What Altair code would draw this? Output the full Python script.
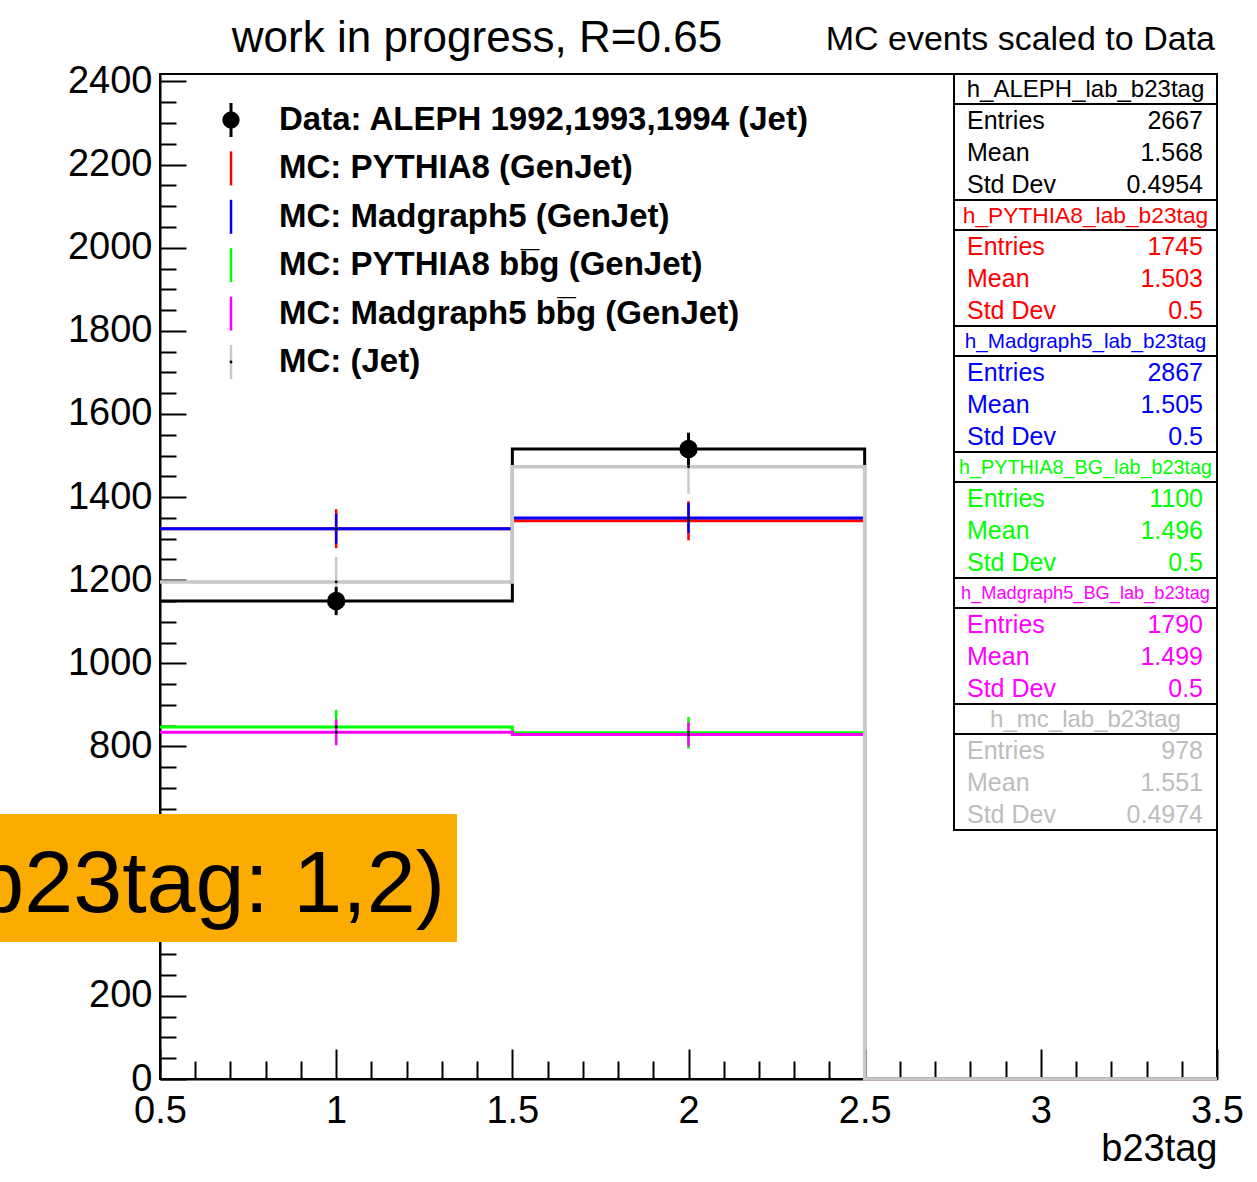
import altair as alt
import pandas as pd

# ---------------- data ----------------
bin_lo = [0.5, 1.5, 2.5]
bin_hi = [1.5, 2.5, 3.5]
bin_center = [1.0, 2.0, 3.0]

data_vals = [1150, 1516, 0]
data_errs = [34, 39, 0]
pythia_vals = [1324, 1343, 0]
pythia_errs = [47, 47, 0]
madgraph_vals = [1324, 1350, 0]
madgraph_errs = [36, 36, 0]
pythia_bg_vals = [847, 833, 0]
pythia_bg_errs = [41, 38, 0]
madgraph_bg_vals = [834, 829, 0]
madgraph_bg_errs = [31, 29, 0]
mc_vals = [1196, 1473, 0]
mc_errs = [60, 65, 0]

x_major = [0.5, 1.0, 1.5, 2.0, 2.5, 3.0, 3.5]
x_minor = [0.6, 0.7, 0.8, 0.9, 1.1, 1.2, 1.3, 1.4, 1.6, 1.7, 1.8, 1.9,
           2.1, 2.2, 2.3, 2.4, 2.6, 2.7, 2.8, 2.9, 3.1, 3.2, 3.3, 3.4]
y_major = [0, 200, 400, 600, 800, 1000, 1200, 1400, 1600, 1800, 2000, 2200, 2400]
# labels 400 and 600 are hidden behind the orange annotation in the reference
y_labels = [0, 200, 800, 1000, 1200, 1400, 1600, 1800, 2000, 2200, 2400]
y_minor = [50, 100, 150, 250, 300, 350, 450, 500, 550, 650, 700, 750, 850, 900, 950,
           1050, 1100, 1150, 1250, 1300, 1350, 1450, 1500, 1550, 1650, 1700, 1750,
           1850, 1900, 1950, 2050, 2100, 2150, 2250, 2300, 2350]

stat_names = ["h_ALEPH_lab_b23tag", "h_PYTHIA8_lab_b23tag", "h_Madgraph5_lab_b23tag",
              "h_PYTHIA8_BG_lab_b23tag", "h_Madgraph5_BG_lab_b23tag", "h_mc_lab_b23tag"]
stat_entries = ["2667", "1745", "2867", "1100", "1790", "978"]
stat_means = ["1.568", "1.503", "1.505", "1.496", "1.499", "1.551"]
stat_stds = ["0.4954", "0.5", "0.5", "0.5", "0.5", "0.4974"]
stat_row_labels = ["Entries", "Mean", "Std Dev"]

legend_labels = ["Data: ALEPH 1992,1993,1994 (Jet)",
                 "MC: PYTHIA8 (GenJet)",
                 "MC: Madgraph5 (GenJet)",
                 "MC: PYTHIA8 bb\u0305g (GenJet)",
                 "MC: Madgraph5 bb\u0305g (GenJet)",
                 "MC: (Jet)"]

title_left = "work in progress, R=0.65"
title_right = "MC events scaled to Data"
x_title = "b23tag"
annot_text = "(b23tag: 1,2)"

# ---------------- style ----------------
FONT = "Liberation Sans"
C_DATA = "#000000"
C_PY = "#ff0000"
C_MG = "#0000ff"
C_PYBG = "#00ff00"
C_MGBG = "#ff00ff"
C_MC = "#c8c8c8"
stat_colors = [C_DATA, C_PY, C_MG, C_PYBG, C_MGBG, "#bdbdbd"]
legend_colors = [C_DATA, C_PY, C_MG, C_PYBG, C_MGBG, C_MC]

W, H = 1057, 1005
xs = alt.Scale(domain=[0.5, 3.5], nice=False, zero=False)
ys = alt.Scale(domain=[0, 2418], nice=False, zero=False)


def step_df(vals):
    return pd.DataFrame({"x": bin_lo + [bin_hi[-1]], "v": vals + [vals[-1]]})


def bins_df(vals, errs):
    df = pd.DataFrame({"lo": bin_lo, "hi": bin_hi, "c": bin_center, "v": vals, "e": errs})
    df = df[df["v"] > 0].copy()
    df["ylo"] = df["v"] - df["e"]
    df["yhi"] = df["v"] + df["e"]
    return df


NOAX = None

ax_main_x = alt.Axis(orient="bottom", values=x_major, format="~g", ticks=False, domain=True,
                     domainColor="black", domainWidth=2, labelFont=FONT, labelFontSize=38,
                     labelColor="black", labelPadding=13, labelFlush=False, labelOverlap=False,
                     grid=False, title=x_title, titleFont=FONT, titleFontSize=38,
                     titleFontWeight="normal", titleColor="black", titleAlign="right",
                     titleX=W, titleY=81, titleBaseline="alphabetic")
ax_main_y = alt.Axis(orient="left", values=y_labels, format="d", ticks=False, domain=True,
                     domainColor="black", domainWidth=2, labelFont=FONT, labelFontSize=38,
                     labelColor="black", labelPadding=8, labelFlush=False, labelOverlap=False,
                     labelBaseline="middle", grid=False, title=None)
ax_maj_x = alt.Axis(orient="bottom", values=x_major, ticks=True, tickSize=30, tickWidth=2,
                    tickColor="black", offset=-30, domain=False, labels=False, grid=False, title=None)
ax_maj_y = alt.Axis(orient="left", values=y_major, ticks=True, tickSize=26, tickWidth=2,
                    tickColor="black", offset=-26, domain=False, labels=False, grid=False, title=None)
ax_min_x = alt.Axis(orient="bottom", values=x_minor, ticks=True, tickSize=18, tickWidth=2,
                    tickColor="black", offset=-18, domain=False, labels=False, grid=False, title=None)
ax_min_y = alt.Axis(orient="left", values=y_minor, ticks=True, tickSize=16, tickWidth=2,
                    tickColor="black", offset=-16, domain=False, labels=False, grid=False, title=None)


def step_layer(vals, color, axx=NOAX, axy=NOAX, width=3):
    return alt.Chart(step_df(vals)).mark_line(interpolate="step-after", color=color,
                                              strokeWidth=width).encode(
        x=alt.X("x:Q", scale=xs, axis=axx),
        y=alt.Y("v:Q", scale=ys, axis=axy))


def seg_layer(vals, errs, color, axx=NOAX, axy=NOAX):
    return alt.Chart(bins_df(vals, errs)).mark_rule(color=color, strokeWidth=3).encode(
        x=alt.X("lo:Q", scale=xs, axis=axx), x2="hi:Q",
        y=alt.Y("v:Q", scale=ys, axis=axy))


def err_layer(vals, errs, color, width=2.5):
    return alt.Chart(bins_df(vals, errs)).mark_rule(color=color, strokeWidth=width).encode(
        x=alt.X("c:Q", scale=xs, axis=NOAX),
        y=alt.Y("ylo:Q", scale=ys, axis=NOAX), y2="yhi:Q")


def dot_layer(vals, errs):
    return alt.Chart(bins_df(vals, errs)).mark_point(filled=True, shape="circle", size=8,
                                                     color="black", opacity=1).encode(
        x=alt.X("c:Q", scale=xs, axis=NOAX),
        y=alt.Y("v:Q", scale=ys, axis=NOAX))


layers = [
    step_layer(data_vals, C_DATA, ax_main_x, ax_main_y),
    step_layer(pythia_bg_vals, C_PYBG, ax_maj_x, ax_maj_y),
    step_layer(madgraph_bg_vals, C_MGBG, ax_min_x, ax_min_y),
    seg_layer(pythia_vals, pythia_errs, C_PY),
    seg_layer(madgraph_vals, madgraph_errs, C_MG),
    err_layer(pythia_bg_vals, pythia_bg_errs, C_PYBG),
    err_layer(madgraph_bg_vals, madgraph_bg_errs, C_MGBG),
    err_layer(pythia_vals, pythia_errs, C_PY),
    err_layer(madgraph_vals, madgraph_errs, C_MG),
    step_layer(mc_vals, C_MC, width=3.5),
    err_layer(mc_vals, mc_errs, C_MC),
    dot_layer(pythia_vals, pythia_errs),
    dot_layer(madgraph_vals, madgraph_errs),
    dot_layer(pythia_bg_vals, pythia_bg_errs),
    dot_layer(madgraph_bg_vals, madgraph_bg_errs),
    dot_layer(mc_vals, mc_errs),
    err_layer(data_vals, data_errs, C_DATA, width=3),
    alt.Chart(bins_df(data_vals, data_errs)).mark_point(filled=True, shape="circle", size=340,
                                                        color="black", opacity=1).encode(
        x=alt.X("c:Q", scale=xs, axis=NOAX), y=alt.Y("v:Q", scale=ys, axis=NOAX)),
]

# ---------------- legend (pixel layout inside the frame) ----------------
leg = pd.DataFrame({"i": list(range(len(legend_labels))), "label": legend_labels,
                    "col": legend_colors})
LEG_Y = "46 + datum.i * 48.4"
leg_lines = alt.Chart(leg).transform_filter("datum.i > 0").mark_rule(strokeWidth=2.5).encode(
    x=alt.value(71),
    y=alt.value({"expr": LEG_Y + " - 17"}),
    y2=alt.value({"expr": LEG_Y + " + 17"}),
    color=alt.Color("col:N", scale=None))
leg_data_bar = alt.Chart(leg).transform_filter("datum.i == 0").mark_rule(
    strokeWidth=3, color="black").encode(
    x=alt.value(71),
    y=alt.value({"expr": LEG_Y + " - 17"}),
    y2=alt.value({"expr": LEG_Y + " + 17"}))
leg_data_pt = alt.Chart(leg).transform_filter("datum.i == 0").mark_point(
    filled=True, shape="circle", size=300, color="black", opacity=1).encode(
    x=alt.value(71), y=alt.value({"expr": LEG_Y}))
leg_dot = alt.Chart(leg).transform_filter("datum.i == 5").mark_point(
    filled=True, shape="circle", size=8, color="black", opacity=1).encode(
    x=alt.value(71), y=alt.value({"expr": LEG_Y}))
leg_text = alt.Chart(leg).mark_text(align="left", baseline="middle", font=FONT,
                                    fontSize=33, fontWeight="bold", color="black").encode(
    x=alt.value(119), y=alt.value({"expr": LEG_Y}), text="label:N")

# ---------------- stat boxes ----------------
BX0, BX1, BH, HH = 794, 1057, 126, 30
boxes = pd.DataFrame({"k": list(range(len(stat_names))), "name": stat_names,
                      "col": stat_colors})
boxes["hfs"] = [min(24.0, 255.0 / (0.56 * len(n))) for n in stat_names]
rows = []
for k in range(len(stat_names)):
    for j, (lab, val) in enumerate(zip(stat_row_labels,
                                       [stat_entries[k], stat_means[k], stat_stds[k]])):
        rows.append({"k": k, "j": j, "lab": lab, "val": val, "col": stat_colors[k]})
rows = pd.DataFrame(rows)

box_hdr = alt.Chart(boxes).mark_rect(fill="white", stroke="black", strokeWidth=2).encode(
    x=alt.value(BX0), x2=alt.value(BX1),
    y=alt.value({"expr": f"datum.k * {BH}"}), y2=alt.value({"expr": f"datum.k * {BH} + {HH}"}))
box_body = alt.Chart(boxes).mark_rect(fill="white", stroke="black", strokeWidth=2).encode(
    x=alt.value(BX0), x2=alt.value(BX1),
    y=alt.value({"expr": f"datum.k * {BH} + {HH}"}),
    y2=alt.value({"expr": f"datum.k * {BH} + {BH}"}))
box_name = alt.Chart(boxes).mark_text(align="center", baseline="middle", font=FONT).encode(
    x=alt.value((BX0 + BX1) / 2), y=alt.value({"expr": f"datum.k * {BH} + 16"}),
    text="name:N", color=alt.Color("col:N", scale=None),
    size=alt.Size("hfs:Q", scale=None))
ROW_Y = f"datum.k * {BH} + 47 + datum.j * 32"
box_lab = alt.Chart(rows).mark_text(align="left", baseline="middle", font=FONT,
                                    fontSize=25).encode(
    x=alt.value(807), y=alt.value({"expr": ROW_Y}), text="lab:N",
    color=alt.Color("col:N", scale=None))
box_val = alt.Chart(rows).mark_text(align="right", baseline="middle", font=FONT,
                                    fontSize=25).encode(
    x=alt.value(1043), y=alt.value({"expr": ROW_Y}), text="val:N",
    color=alt.Color("col:N", scale=None))

# ---------------- titles & annotation ----------------
one = pd.DataFrame({"t": [title_left], "r": [title_right], "a": [annot_text]})
t_left = alt.Chart(one).mark_text(align="center", baseline="alphabetic", font=FONT,
                                  fontSize=44, color="black").encode(
    x=alt.value(317), y=alt.value(-22), text="t:N")
t_right = alt.Chart(one).mark_text(align="right", baseline="alphabetic", font=FONT,
                                   fontSize=34, color="black").encode(
    x=alt.value(1055), y=alt.value(-24), text="r:N")
annot_box = alt.Chart(one).mark_rect(color="#fcac00").encode(
    x=alt.value(-160), x2=alt.value(297), y=alt.value(740), y2=alt.value(868))
annot_txt = alt.Chart(one).mark_text(align="right", baseline="alphabetic", font=FONT,
                                     fontSize=88, color="black").encode(
    x=alt.value(285), y=alt.value(838), text="a:N")

chart = alt.layer(
    *layers, leg_lines, leg_data_bar, leg_data_pt, leg_dot, leg_text,
    box_hdr, box_body, box_name, box_lab, box_val,
    t_left, t_right, annot_box, annot_txt
).resolve_axis(x="independent", y="independent").properties(
    width=W, height=H,
    padding={"left": 160, "top": 74, "right": 40, "bottom": 103},
    autosize=alt.AutoSizeParams(type="none"),
    background="white",
).configure_view(stroke="black", strokeWidth=2)

chart.save("out.html", embed_options={"renderer": "svg", "actions": False})
